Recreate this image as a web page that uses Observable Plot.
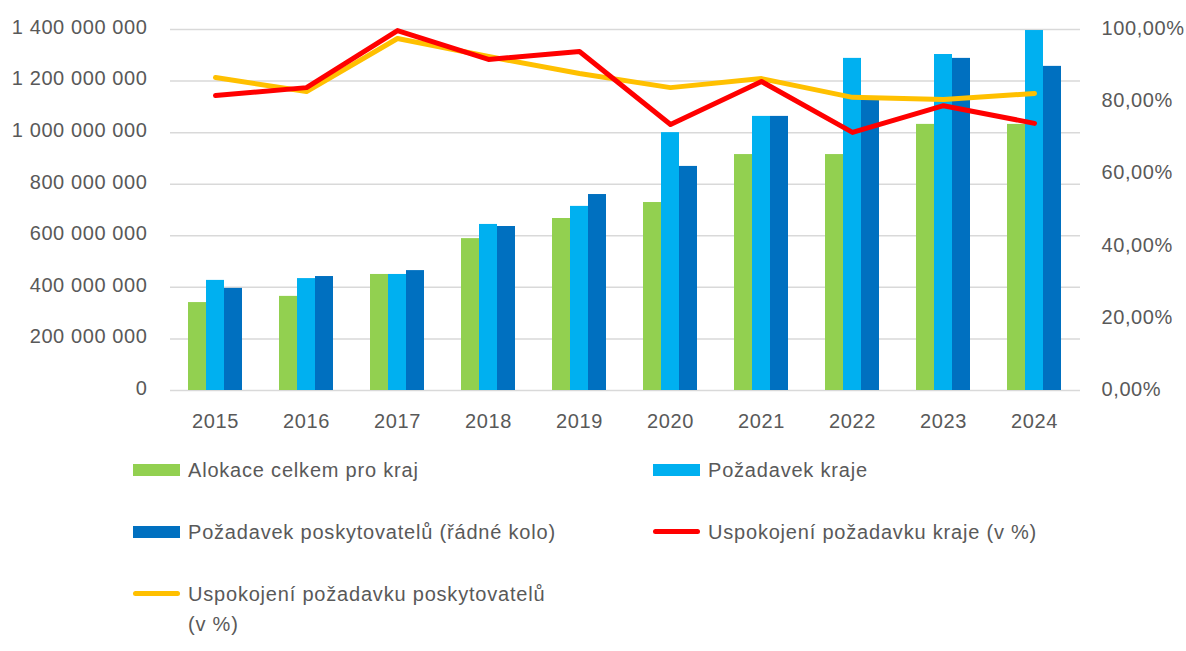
<!DOCTYPE html>
<html>
<head>
<meta charset="utf-8">
<script src="https://cdn.jsdelivr.net/npm/d3@7"></script>
<script src="https://cdn.jsdelivr.net/npm/@observablehq/plot@0.6"></script>
<style>
  body { margin: 0; background: #fff; font-family: "Liberation Sans", Arial, sans-serif; }
  #wrap { position: relative; width: 1186px; height: 651px; }
  #chart { position: absolute; left: 0; top: 0; }
  #chart svg text { letter-spacing: 0.6px; }
  #legend { position: absolute; left: 133px; top: 455px; display: grid;
    grid-template-columns: 520px 460px; grid-auto-rows: 62px; color: #595959; font-size: 20px; line-height: 30px; letter-spacing: 0.8px; }
  .item { display: flex; align-items: flex-start; }
  .sw { flex: none; width: 47px; margin-right: 8px; margin-top: 9px; }
  .bar { height: 12px; }
  .ln { height: 5px; border-radius: 3px; margin-top: 12px; }
</style>
</head>
<body>
<div id="wrap">
  <div id="chart"></div>
  <div id="legend"></div>
</div>
<script>
const years = ["2015","2016","2017","2018","2019","2020","2021","2022","2023","2024"];
const alokace = [341e6, 365e6, 450e6, 589e6, 667e6, 729e6, 915e6, 915e6, 1032e6, 1032e6];
const pozadavekKraje = [427e6, 434e6, 450e6, 644e6, 714e6, 1000e6, 1063e6, 1288e6, 1303e6, 1396e6];
const pozadavekPosk = [396e6, 442e6, 465e6, 636e6, 760e6, 869e6, 1063e6, 1125e6, 1288e6, 1257e6];
const uspKraje = [81.7, 83.9, 99.7, 91.7, 93.9, 73.7, 85.6, 71.5, 78.9, 74.0];
const uspPosk = [86.7, 82.8, 97.5, 92.5, 87.8, 83.9, 86.4, 81.2, 80.6, 82.3];
const leftTicks = [0, 200e6, 400e6, 600e6, 800e6, 1000e6, 1200e6, 1400e6];
const rightTicks = [0, 20, 40, 60, 80, 100];
const seriesNames = ["Alokace celkem pro kraj", "Požadavek kraje", "Požadavek poskytovatelů (řádné kolo)", "Uspokojení požadavku kraje (v %)", "Uspokojení požadavku poskytovatelů\n(v %)"];
const colors = ["#92D050", "#00B0F0", "#0070C0", "#FF0000", "#FFC000"];

const YMAX = 1400e6;
const rows = years.map((y, i) => ({year: y, a: alokace[i], k: pozadavekKraje[i], p: pozadavekPosk[i], uk: uspKraje[i], up: uspPosk[i]}));
const cz = d3.formatLocale({decimal: ",", thousands: " ", grouping: [3], currency: ["", ""]});
const fmtLeft = cz.format(",.0f");
const pctToY = p => p / 100 * YMAX;
const fmtRight = v => (v / YMAX * 100).toFixed(2).replace(".", ",") + "%";

const chart = Plot.plot({
  width: 1186,
  height: 445,
  marginTop: 29,
  marginBottom: 55,
  marginLeft: 170,
  marginRight: 106,
  style: {fontFamily: "Liberation Sans, Arial, sans-serif", fontSize: "20px", color: "#595959", background: "white"},
  x: {type: "band", domain: years, paddingInner: 0.8, paddingOuter: 0.4, align: 0.5, label: null},
  y: {domain: [0, YMAX], label: null},
  marks: [
    Plot.ruleY(leftTicks, {stroke: "#D9D9D9", strokeWidth: 1.5}),
    Plot.axisY(leftTicks, {anchor: "left", tickSize: 0, tickPadding: 23, tickFormat: fmtLeft, label: null, fill: "#595959", dy: -2}),
    Plot.axisY(rightTicks.map(pctToY), {anchor: "right", tickSize: 0, tickPadding: 21, tickFormat: fmtRight, label: null, fill: "#595959", textAnchor: "start", dy: -1}),
    Plot.axisX({anchor: "bottom", tickSize: 0, tickPadding: 23, label: null, fill: "#595959"}),
    Plot.barY(rows, {x: "year", y: "a", fill: colors[0], dx: -18}),
    Plot.barY(rows, {x: "year", y: "k", fill: colors[1]}),
    Plot.barY(rows, {x: "year", y: "p", fill: colors[2], dx: 18}),
    Plot.line(rows, {x: "year", y: d => pctToY(d.up), stroke: colors[4], strokeWidth: 5, strokeLinejoin: "round", strokeLinecap: "round"}),
    Plot.line(rows, {x: "year", y: d => pctToY(d.uk), stroke: colors[3], strokeWidth: 5, strokeLinejoin: "round", strokeLinecap: "round"})
  ]
});
document.getElementById("chart").appendChild(chart);

const legend = document.getElementById("legend");
seriesNames.forEach((name, i) => {
  const item = document.createElement("div");
  item.className = "item";
  const sw = document.createElement("div");
  sw.className = "sw " + (i < 3 ? "bar" : "ln");
  sw.style.background = colors[i];
  const t = document.createElement("div");
  t.style.whiteSpace = "pre";
  t.textContent = name;
  item.appendChild(sw);
  item.appendChild(t);
  legend.appendChild(item);
});
</script>
</body>
</html>
